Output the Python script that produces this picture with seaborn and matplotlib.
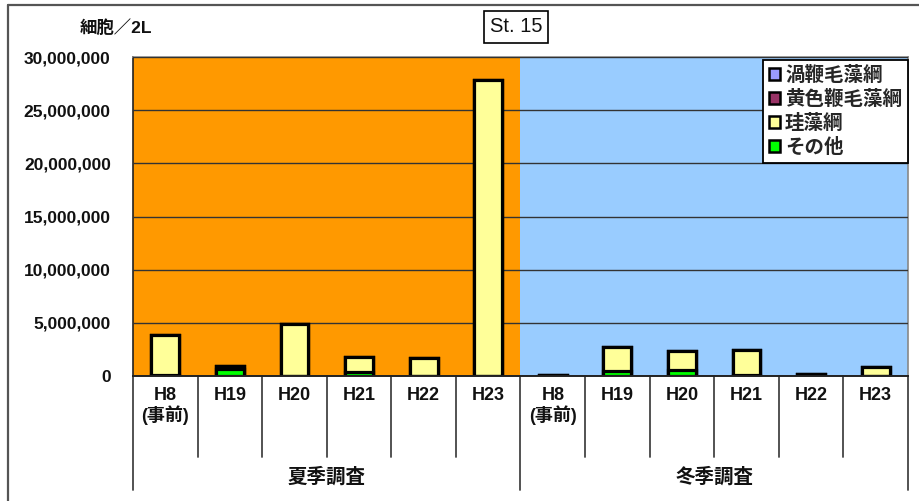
import matplotlib
matplotlib.use("Agg")
import matplotlib.pyplot as plt
from matplotlib.patches import Patch
from matplotlib.lines import Line2D
from matplotlib.ticker import FuncFormatter, MultipleLocator
import numpy as np
import pandas as pd
import seaborn as sns

# Survey periods and sampling years (St. 15, cells per 2 L)
seasons = ["夏季調査"] * 6 + ["冬季調査"] * 6
years = ["H8\n(事前)", "H19", "H20", "H21", "H22", "H23"] * 2

dinophyceae = [0, 0, 0, 0, 0, 0, 0, 0, 0, 0, 0, 0]
chrysophyceae = [0, 0, 0, 0, 0, 0, 0, 0, 0, 0, 0, 0]
diatoms = [3850000, 350000, 4900000, 1400000, 1650000, 27800000,
           30000, 2250000, 1750000, 2350000, 120000, 850000]
others = [50000, 620000, 20000, 400000, 20000, 20000,
          20000, 480000, 580000, 100000, 30000, 20000]

series_names = ["渦鞭毛藻綱", "黄色鞭毛藻綱", "珪藻綱", "その他"]
series_colors = ["#9999FF", "#993366", "#FFFF99", "#00FF00"]

sns.set_theme(style="white")
plt.rcParams["font.family"] = ["Liberation Sans", "Noto Sans CJK JP"]

keys = [f"{s}|{y}" for s, y in zip(seasons, years)]
values = np.array([dinophyceae, chrysophyceae, diatoms, others], dtype=float)

fig = plt.figure(figsize=(9.2, 5.01), dpi=100)
W, H = 920, 501
ax = fig.add_axes([133 / W, 1 - 376 / H, (908 - 133) / W, (376 - 57) / H])

# season backgrounds
ax.axvspan(-0.5, 5.5, color="#FF9900", zorder=0, lw=0)
ax.axvspan(5.5, 11.5, color="#99CCFF", zorder=0, lw=0)

# stacked columns: draw cumulative heights from the top series down
for i in range(4):
    cum = values[i:].sum(axis=0)
    df = pd.DataFrame({"key": keys, "value": cum})
    sns.barplot(data=df, x="key", y="value", order=keys, color=series_colors[i],
                saturation=1, width=0.43, edgecolor="black", linewidth=2.3,
                ax=ax, zorder=3)

ax.set_xlim(-0.5, 11.5)
ax.set_ylim(0, 30000000)
ax.yaxis.set_major_locator(MultipleLocator(5000000))
ax.yaxis.set_major_formatter(FuncFormatter(lambda v, p: f"{int(v):,}"))
ax.grid(axis="y", color="#333333", lw=1.0, zorder=1)
ax.set_axisbelow(False)
for line in ax.get_ygridlines():
    line.set_zorder(1)
ax.set_xlabel("")
ax.set_ylabel("")
ax.set_xticks([])
ax.tick_params(axis="y", length=0, pad=16, labelsize=12.5)
for lab in ax.get_yticklabels():
    lab.set_fontweight("bold")
    lab.set_color("#111111")

for side in ["top", "right"]:
    ax.spines[side].set_color("#888888")
    ax.spines[side].set_linewidth(1.2)
ax.spines["left"].set_color("#222222")
ax.spines["left"].set_linewidth(1.2)
ax.spines["bottom"].set_color("#222222")
ax.spines["bottom"].set_linewidth(1.4)
ax.spines["bottom"].set_zorder(5)

# category table under the axis
tr = ax.get_xaxis_transform()
for b in np.arange(-0.5, 12, 1.0):
    outer = b in (-0.5, 5.5, 11.5)
    y_end = -0.357 if outer else -0.254
    ax.add_line(Line2D([b, b], [0, y_end], transform=tr, color="#444444",
                       lw=1.3, clip_on=False))
for i, y in enumerate(years):
    ax.text(i, -0.035, y, transform=tr, ha="center", va="top", fontsize=13,
            fontweight="bold", color="#111111", linespacing=1.05)
ax.text(2.5, -0.317, "夏季調査", transform=tr, ha="center", va="center",
        fontsize=14, fontweight="bold", color="#111111")
ax.text(8.5, -0.317, "冬季調査", transform=tr, ha="center", va="center",
        fontsize=14, fontweight="bold", color="#111111")

# legend
handles = [Patch(facecolor=c, edgecolor="black", lw=1.8) for c in series_colors]
leg = ax.legend(handles, series_names, loc="upper right", bbox_to_anchor=(1.0, 0.99),
                borderaxespad=0, frameon=True, fancybox=False, framealpha=1,
                handlelength=0.6, handleheight=0.6, handletextpad=0.25,
                labelspacing=0.25, borderpad=0.3,
                prop={"size": 14, "weight": "bold"})
leg.get_frame().set_edgecolor("black")
leg.get_frame().set_linewidth(1.3)
leg.set_zorder(6)

# title box and unit label
fig.text(516 / W, 1 - 27 / H, "St. 15", ha="center", va="center", fontsize=14.5,
         color="#111111",
         bbox=dict(boxstyle="square,pad=0.3", facecolor="white", edgecolor="black", lw=1.2))
fig.text(116 / W, 1 - 27 / H, "細胞／2L", ha="center", va="center", fontsize=12.5,
         fontweight="bold", color="#111111")

# outer chart frame
fig.add_artist(Line2D([8 / W, 8 / W], [0, 1 - 5 / H], transform=fig.transFigure,
                      color="#555555", lw=1.6))
fig.add_artist(Line2D([8 / W, 1], [1 - 5 / H, 1 - 5 / H], transform=fig.transFigure,
                      color="#555555", lw=1.6))

fig.savefig("out.png", dpi=100)
